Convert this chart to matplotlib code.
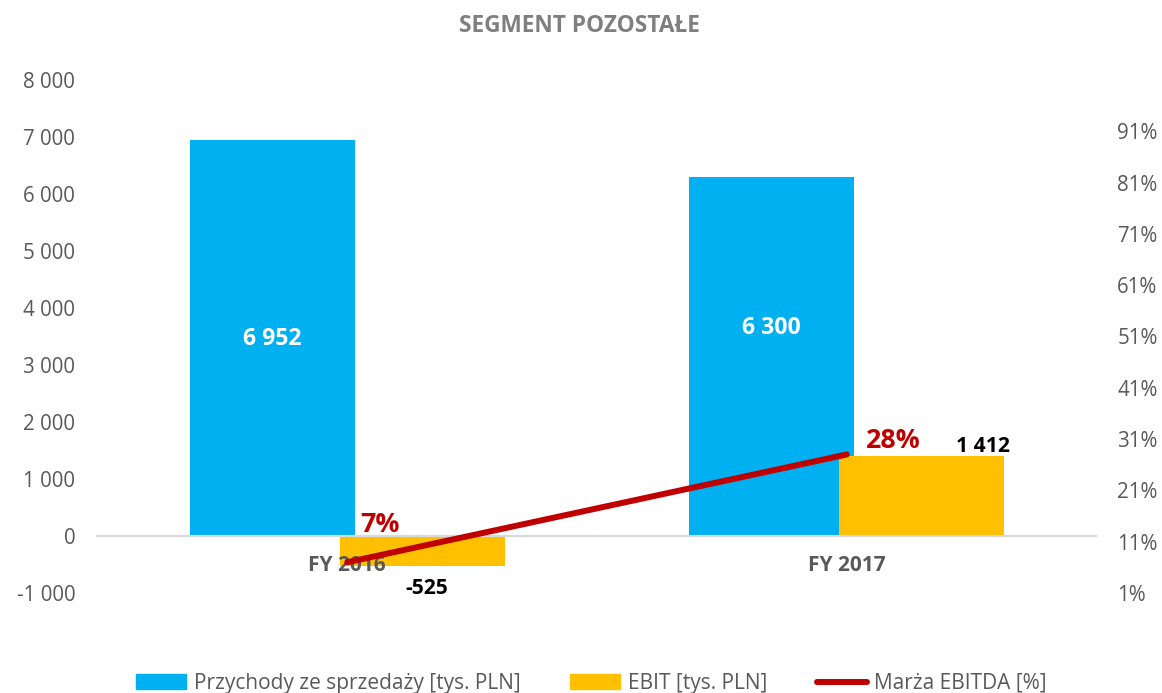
import matplotlib.pyplot as plt
import numpy as np
from matplotlib.lines import Line2D
from matplotlib.patches import Patch

plt.rcParams["font.family"] = ["Open Sans", "DejaVu Sans"]

categories = ["FY 2016", "FY 2017"]
revenue = [6952, 6300]          # Przychody ze sprzedaży [tys. PLN]
ebit = [-525, 1412]             # EBIT [tys. PLN]
ebitda_margin = [0.07, 0.28]    # Marża EBITDA [%]
left_ticks = [-1000, 0, 1000, 2000, 3000, 4000, 5000, 6000, 7000, 8000]
right_ticks = [0.01, 0.11, 0.21, 0.31, 0.41, 0.51, 0.61, 0.71, 0.81, 0.91]

BLUE = "#00B0F0"
ORANGE = "#FFC000"
RED = "#C00000"
GRAY = "#595959"


def fmt_thousands(v):
    s = f"{abs(v):,.0f}".replace(",", " ")
    return ("-" if v < 0 else "") + s


fig = plt.figure(figsize=(11.62, 6.93), dpi=100)
ax = fig.add_axes([0.0839, 0.1443, 0.8597, 0.7403])
ax2 = ax.twinx()

x = np.arange(len(categories))
width = 0.33
# keep bars under the axis so the category labels stay visible
ax.bar(x - 0.15, revenue, width, color=BLUE, zorder=1)
ax.bar(x + 0.15, ebit, width, color=ORANGE, zorder=1.5)

ax.set_xlim(-0.5, 1.5)
ax.set_ylim(-1000, 8000)
ax.set_yticks(left_ticks)
ax.set_yticklabels([fmt_thousands(t) for t in left_ticks])
ax.tick_params(axis="y", length=0, pad=16, labelsize=14.8, labelcolor=GRAY)

# category axis sits on zero line
ax.spines["bottom"].set_position(("data", 0))
ax.spines["bottom"].set_color("#D9D9D9")
ax.spines["bottom"].set_linewidth(1.5)
for s in ["top", "left", "right"]:
    ax.spines[s].set_visible(False)
for s in ["top", "left", "right", "bottom"]:
    ax2.spines[s].set_visible(False)
ax.set_xticks(x)
ax.set_xticklabels(categories, fontweight="bold", fontsize=15, color=GRAY)
ax.tick_params(axis="x", length=0, pad=14)

# line on secondary axis
ax2.plot(x, ebitda_margin, color=RED, linewidth=4.3, solid_capstyle="round", zorder=4)
ax2.set_ylim(0.01, 1.01)
ax2.set_yticks(right_ticks)
ax2.set_yticklabels([f"{t:.0%}" for t in right_ticks])
ax2.tick_params(axis="y", length=0, pad=15, labelsize=14.8, labelcolor=GRAY)
ax2.set_zorder(ax.get_zorder() + 1)
ax2.patch.set_visible(False)

# data labels
rev_label_y = [3450, 3650]
for i, v in enumerate(revenue):
    ax.text(x[i] - 0.15, rev_label_y[i], fmt_thousands(v), ha="center", va="center",
            color="white", fontweight="bold", fontsize=16.7)
ax.text(x[0] + 0.16, ebit[0] - 400, fmt_thousands(ebit[0]), ha="center", va="center",
        color="black", fontweight="bold", fontsize=15.2)
ax.text(x[1] + 0.273, ebit[1] + 160, fmt_thousands(ebit[1]), ha="center", va="center",
        color="black", fontweight="bold", fontsize=15.2)
ax2.text(x[0] + 0.065, 0.142, f"{ebitda_margin[0]:.0%}", ha="center", va="center",
         color=RED, fontweight="bold", fontsize=19.3)
ax2.text(x[1] + 0.093, 0.307, f"{ebitda_margin[1]:.0%}", ha="center", va="center",
         color=RED, fontweight="bold", fontsize=19.3)

fig.text(0.499, 0.962, "SEGMENT POZOSTAŁE", ha="center", va="center",
         fontweight="bold", fontsize=16.3, color="#7F7F7F")

handles = [
    Patch(color=BLUE, label="Przychody ze sprzedaży [tys. PLN]"),
    Patch(color=ORANGE, label="EBIT [tys. PLN]"),
    Line2D([0], [0], color=RED, linewidth=4.3, solid_capstyle="round",
           label="Marża EBITDA [%]"),
]
fig.legend(handles=handles, loc="center", bbox_to_anchor=(0.509, 0.014), ncol=3,
           frameon=False, fontsize=15, labelcolor=GRAY, handlelength=2.4,
           handleheight=0.7, handletextpad=0.35, columnspacing=2.4)

fig.savefig("out.png", dpi=100)
